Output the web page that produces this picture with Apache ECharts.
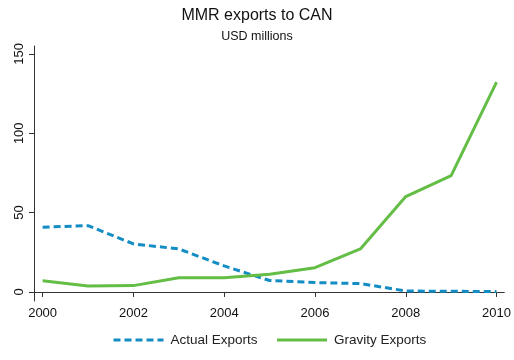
<!DOCTYPE html>
<html><head><meta charset="utf-8">
<script src="https://cdn.jsdelivr.net/npm/echarts@6/dist/echarts.min.js"></script>
<style>html,body{margin:0;padding:0;background:#fff}#c{width:514px;height:360px}</style>
</head><body><div id="c"></div>
<script>
const years = [2000,2001,2002,2003,2004,2005,2006,2007,2008,2009,2010];
const actualExports = [40.8,41.8,30.3,27.1,16.4,7.2,5.9,5.3,0.6,0.4,0.3];
const gravityExports = [7.1,3.8,4.0,9.0,9.0,11.2,15.3,27.1,60.1,73.3,132.2];
const yTicks = [0,50,100,150];
const xTicks = [2000,2002,2004,2006,2008,2010];
const seriesNames = ['Actual Exports','Gravity Exports'];

const chart = echarts.init(document.getElementById('c'));
const font = 'Liberation Sans, Arial, Helvetica, sans-serif';
chart.setOption({
  animation:false,
  backgroundColor:'#fff',
  title:{text:'MMR exports to CAN', subtext:'USD millions', left:'center', top:3, itemGap:6,
    textStyle:{fontFamily:font,fontSize:16,fontWeight:'normal',color:'#111'},
    subtextStyle:{fontFamily:font,fontSize:12.5,color:'#111'}},
  legend:{bottom:8,left:107,itemWidth:50,itemHeight:14,itemGap:18,
    itemStyle:{opacity:0},
    lineStyle:{width:3},
    textStyle:{fontFamily:font,fontSize:13.5,color:'#222',padding:[0,0,0,2]},
    data:seriesNames},
  grid:{left:34,right:6,top:46,bottom:59,containLabel:false},
  xAxis:{type:'value',min:1999.81,max:2010.17,
    axisLine:{lineStyle:{color:'#333',width:1}},
    axisTick:{customValues:xTicks,length:5,lineStyle:{color:'#333'}},
    axisLabel:{customValues:xTicks,formatter:v=>String(v),fontFamily:font,fontSize:13,color:'#111',margin:6},
    splitLine:{show:false}},
  yAxis:{type:'value',min:-5.7,max:155,
    axisLine:{show:true,lineStyle:{color:'#333',width:1}},
    axisTick:{show:true,customValues:yTicks,length:5,lineStyle:{color:'#333'}},
    axisLabel:{customValues:yTicks,rotate:90,fontFamily:font,fontSize:13,color:'#111',margin:8},
    splitLine:{show:false}},
  series:[
    {name:seriesNames[0],type:'line',data:years.map((y,i)=>[y,actualExports[i]]),symbol:'none',
      color:'#148cc4',lineStyle:{width:3,type:[7,4],color:'#148cc4'}},
    {name:seriesNames[1],type:'line',data:years.map((y,i)=>[y,gravityExports[i]]),symbol:'none',
      color:'#64be46',lineStyle:{width:3,color:'#64be46'}}
  ]
});
</script></body></html>
